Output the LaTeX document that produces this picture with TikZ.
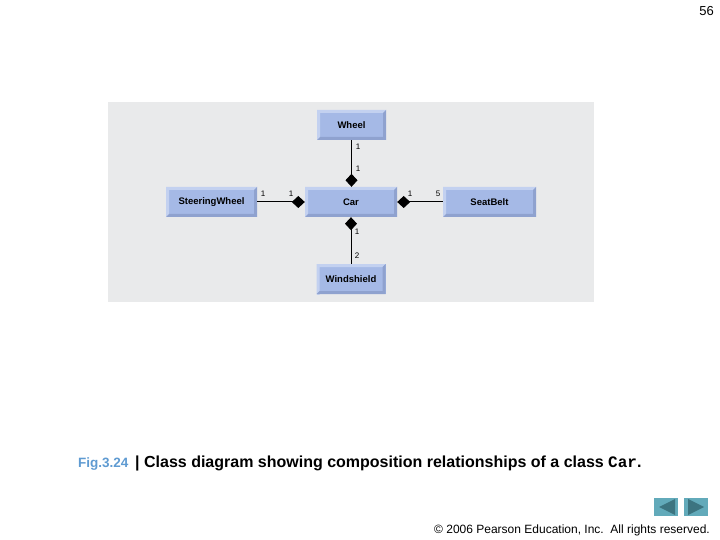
\documentclass[tikz,border=0pt]{standalone}
\usepackage{fontspec}
\setmainfont{Liberation Sans}
\setmonofont{Liberation Mono}
\usetikzlibrary{arrows.meta}
\definecolor{panel}{HTML}{E9EAEB}
\definecolor{boxfill}{HTML}{A5B9E6}
\definecolor{boxlight}{HTML}{C3D1F0}
\definecolor{boxdark}{HTML}{8FA2CF}
\definecolor{figblue}{HTML}{5F9BD2}
\definecolor{navfill}{HTML}{62AABA}
\definecolor{navtri}{HTML}{3C7480}
\tikzset{
  x=1pt,y=-1pt,
  classbox/.style={rectangle,inner sep=0pt,fill=boxfill,minimum height=30pt,font=\fontsize{9.5}{10}\selectfont\bfseries,
    path picture={
      \fill[boxlight] (path picture bounding box.north west) -- (path picture bounding box.north east) -- ++(-3,3) -| ([xshift=3pt,yshift=-3pt]path picture bounding box.north west |- path picture bounding box.south west) -- (path picture bounding box.south west) -- cycle;
      \fill[boxdark] (path picture bounding box.south east) -- (path picture bounding box.north east) -- ++(-3,3) |- ([shift={(3pt,3pt)}]path picture bounding box.south west) -- (path picture bounding box.south west) -- cycle;
    }},
  comp/.style={draw=black,line width=1pt,-{Diamond[length=13pt,width=12pt,fill=black]}},
  mult/.style={inner sep=0pt,font=\fontsize{8}{9}\selectfont},
  navbtn/.style={rectangle,fill=navfill,minimum width=24pt,minimum height=18pt,inner sep=0pt},
  navmark/.style={fill=navtri,draw=none},
  bodytext/.style={inner sep=0pt,anchor=base west}
}
\begin{document}
\begin{tikzpicture}
\useasboundingbox (0,0) rectangle (720,540);
\fill[white] (0,0) rectangle (720,540);
\fill[panel] (108,102) rectangle (594,302);
\node[classbox,minimum width=69pt] (wheel) at (351.5,125) {Wheel};
\node[classbox,minimum width=92pt] (car) at (351,202) {Car};
\node[classbox,minimum width=91pt] (steer) at (211.5,202) {SteeringWheel};
\node[classbox,minimum width=93pt] (belt) at (489.5,202) {SeatBelt};
\node[classbox,minimum width=69pt] (shield) at (351,279) {Windshield};
\draw[comp] (wheel.south) -- (wheel.south |- car.north);
\draw[comp] (steer.east) -- (car.west);
\draw[comp] (belt.west) -- (car.east);
\draw[comp] (shield.north) -- (shield.north |- car.south);
\node[mult] (m1) at (358,147) {1};
\node[mult] (m2) at (358,169) {1};
\node[mult] (m3) at (263,194) {1};
\node[mult] (m4) at (291,194) {1};
\node[mult] (m5) at (410,194) {1};
\node[mult] (m6) at (438,194) {5};
\node[mult] (m7) at (357,232) {1};
\node[mult] (m8) at (357,256) {2};
\node[inner sep=0pt,anchor=base east,font=\fontsize{13}{14}\selectfont] (page) at (714,16) {56};
\node[bodytext,font=\fontsize{13.5}{15}\selectfont\bfseries,text=figblue] (fig) at (78,467) {Fig.3.24};
\node[bodytext,font=\fontsize{16}{18}\selectfont\bfseries] (cap) at (135,467) {| Class diagram showing composition relationships of a class \texttt{\fontsize{16}{18}\selectfont Car}.};
\node[bodytext,font=\fontsize{12}{14}\selectfont] (copy) at (434,533) {© 2006 Pearson Education, Inc.\ \ All rights reserved.};
\node[navbtn] (prev) at (666,507) {};
\node[navbtn] (next) at (696,507) {};
\fill[navmark] (659,507) -- (675,499) -- (675,515) -- cycle;
\fill[navmark] (704,507) -- (688,499) -- (688,515) -- cycle;
\end{tikzpicture}
\end{document}
